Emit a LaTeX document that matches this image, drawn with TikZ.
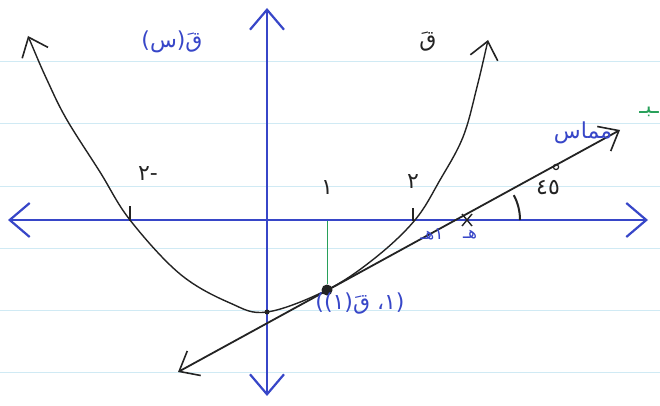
\documentclass[tikz,border=0pt]{standalone}
\usepackage{fontspec}
\usetikzlibrary{arrows.meta}
\newfontfamily\arabicfont[Script=Arabic]{DejaVu Sans}
\newfontfamily\plainfont{DejaVu Sans}
\TeXXeTstate=1
\definecolor{ink}{RGB}{55,70,200}
\definecolor{paper}{RGB}{208,234,244}
\definecolor{greenink}{RGB}{40,160,90}
\definecolor{pencil}{RGB}{35,35,35}
\newcommand{\ar}[1]{\hbox{\arabicfont #1}}
\newcommand{\pl}[1]{\hbox{\plainfont #1}}
\tikzset{
  barb/.tip={Straight Barb[length=20pt,width=34pt,line width=2.2pt]},
  sbarb/.tip={Straight Barb[length=17pt,width=28pt,line width=1.6pt]},
  axisline/.style={ink, line width=2.4pt, barb-barb},
  curveline/.style={pencil, line width=1.4pt, sbarb-sbarb},
  tanline/.style={pencil, line width=1.8pt, sbarb-sbarb},
  ruled/.style={paper, line width=1pt},
  lbl/.style={font=\fontsize{22}{24}\selectfont, inner sep=1pt},
  slbl/.style={font=\fontsize{17}{19}\selectfont, inner sep=1pt},
  tick/.style={pencil, line width=1.4pt},
  dotpt/.style={circle, fill=pencil, inner sep=0pt, minimum size=#1},
}
\begin{document}
\begin{tikzpicture}[x=1pt,y=-1pt]
\useasboundingbox (0,0) rectangle (660,406);
\fill[white] (0,0) rectangle (660,406);
% ruled paper
\foreach \yy in {62,124,186,248,310,372}
  \draw[ruled] (0,\yy) -- (660,\yy);
% axes
\coordinate (xl) at (8,220);
\coordinate (xr) at (648,220);
\coordinate (yt) at (267,8);
\coordinate (yb) at (267,396);
\draw[axisline] (xl) -- (xr);
\draw[axisline] (yb) -- (yt);
% parabola
\draw[curveline] plot[smooth, tension=0.6] coordinates
  {(28,36) (48,82) (67,120) (100,172) (130,220) (180,274) (230,303) (267,312) (327,290) (375,258) (415,220) (440,180) (463,137) (477,87) (488,40)};
% tangent line
\coordinate (t1) at (178,372);
\coordinate (t2) at (620,130);
\draw[tanline] (t1) -- (t2);
% points
\node[dotpt=11pt] (P) at (327,290) {};
\node[dotpt=5pt] (V) at (267,312) {};
\coordinate (P1) at (327,221);
\draw[greenink, line width=1pt] (P1) -- (P);
% ticks
\draw[tick] (130,206) -- (130,221);
\draw[tick] (413,208) -- (413,221);
\draw[tick] (462,214) -- (472,226);
\draw[tick] (472,214) -- (462,226);
% angle arc
\coordinate (A) at (467,220);
\draw[pencil, line width=2pt] (520,220) arc[start angle=0, end angle=-28, radius=53];
% labels
\node[lbl, ink] (lq) at (172,42) {\pl{(}\ar{س}\pl{)}\ar{قَ}};
\node[lbl, pencil] (lq2) at (428,42) {\ar{قَ}};
\node[lbl, ink] (lt) at (583,133) {\arabicfont\beginR مماس\endR};
\node[lbl, pencil] (lang) at (548,188) {\ar{٤}\ar{٥}};
\draw[pencil, line width=1.2pt] (556,167) circle[radius=2.6];
\node[lbl, pencil] (lm2) at (148,174) {\ar{٢}\pl{-}};
\node[lbl, pencil] (l2) at (413,182) {\ar{٢}};
\node[lbl, pencil] (l1) at (327,188) {\ar{١}};
\node[lbl, ink] (lpt) at (360,304) {\pl{((}\ar{١}\pl{)}\ar{قَ}\ar{ ،}\ar{١}\pl{)}};
\node[slbl, ink] (lh1) at (432,234) {\ar{هـ}\ar{١}};
\node[slbl, ink] (lh2) at (470,235) {\ar{هـ}};
\node[lbl, greenink, anchor=east] (lg) at (660,112) {\ar{ـبـ}};
\end{tikzpicture}
\end{document}
